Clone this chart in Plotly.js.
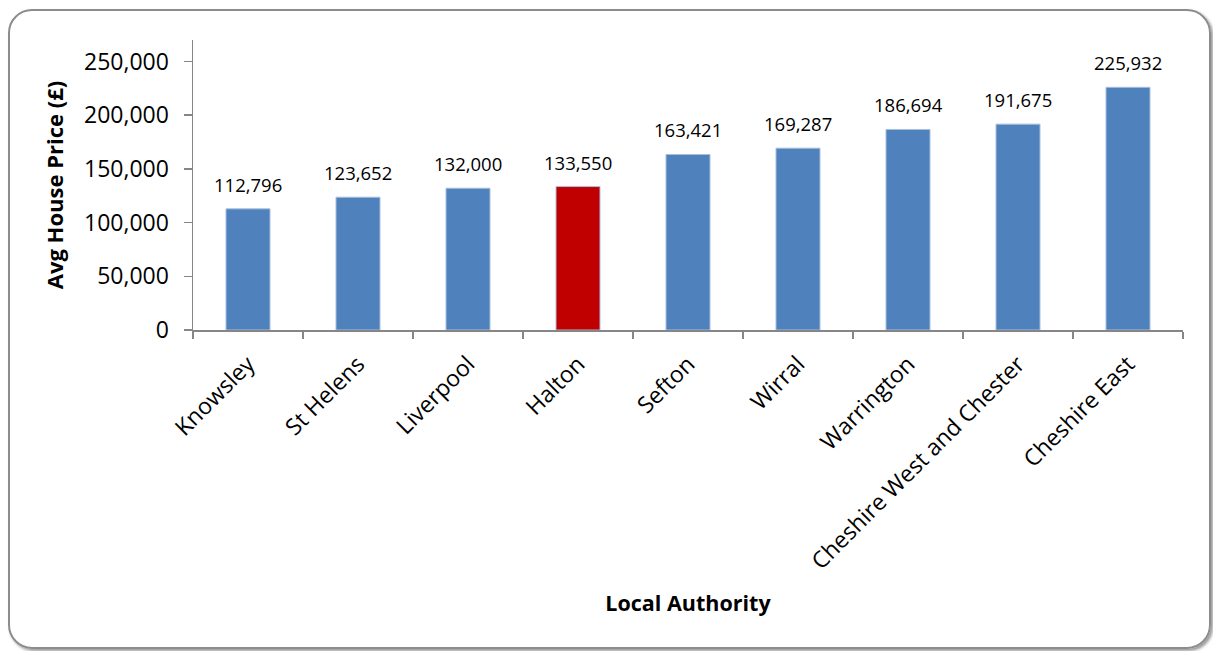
<!DOCTYPE html>
<html><head><meta charset="utf-8">
<script src="https://cdn.plot.ly/plotly-3.0.1.min.js"></script>
<style>
html,body{margin:0;padding:0;background:#fff;}
#wrap{position:relative;width:1213px;height:651px;}
#chart{position:absolute;left:0;top:0;width:1213px;height:651px;}
#frame{position:absolute;left:8px;top:9px;width:1199px;height:636px;border:2px solid #8c8c8c;border-radius:24px;box-shadow:2px 2px 3px #9a9a9a;pointer-events:none;}
</style></head>
<body><div id="wrap"><div id="chart"></div><div id="frame"></div></div>
<script>
const categories = ["Knowsley","St Helens","Liverpool","Halton","Sefton","Wirral","Warrington","Cheshire West and Chester","Cheshire East"];
const prices = [112796,123652,132000,133550,163421,169287,186694,191675,225932];
const highlight = "Halton";
const yTicks = [0,50000,100000,150000,200000,250000];

const fnt = "Open Sans, DejaVu Sans, sans-serif";
const colors = categories.map(c => c === highlight ? "#C00000" : "#4F81BD");
const fmt = v => v.toLocaleString("en-GB");

const trace = {
  type: "bar", x: categories, y: prices,
  marker: {color: colors, line: {color: "#A7BFDE", width: 1}},
  hoverinfo: "x+y"
};
const annotations = categories.map((c,i) => ({
  x: c, y: prices[i], xref: "x", yref: "y", text: fmt(prices[i]),
  showarrow: false, yanchor: "bottom", yshift: 10,
  font: {family: fnt, size: 18.5, color: "#000"}
}));
const layout = {
  width: 1213, height: 651,
  margin: {l: 193, r: 30, t: 40, b: 321},
  paper_bgcolor: "#fff", plot_bgcolor: "#fff",
  bargap: 0.6, showlegend: false,
  font: {family: fnt, color: "#000"},
  xaxis: {
    type: "category", tickangle: -45, tickson: "boundaries",
    ticks: "outside", ticklen: 7, tickcolor: "#868686", tickwidth: 1.5,
    showline: true, linecolor: "#868686", linewidth: 1.5,
    showgrid: false, zeroline: false,
    tickfont: {family: fnt, size: 23, color: "#000"},
    ticklabelstandoff: 10,
    title: {text: "<b>Local Authority</b>", font: {family: fnt, size: 21.5, color: "#000"}, standoff: 21},
    automargin: false
  },
  yaxis: {
    range: [0, 270000], tickvals: yTicks, ticktext: yTicks.map(fmt),
    ticks: "outside", ticklen: 8, tickcolor: "#868686", tickwidth: 1.5,
    showline: true, linecolor: "#868686", linewidth: 1.5,
    showgrid: false, zeroline: false,
    tickfont: {family: fnt, size: 23, color: "#000"},
    ticklabelstandoff: 10,
    title: {text: "<b>Avg House Price (£)</b>", font: {family: fnt, size: 22, color: "#000"}, standoff: 14},
    automargin: false
  },
  annotations: annotations
};
Plotly.newPlot("chart", [trace], layout, {displayModeBar: false, staticPlot: true});
</script></body></html>
